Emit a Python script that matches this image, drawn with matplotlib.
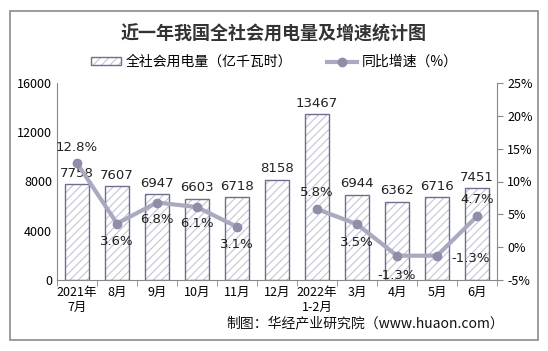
import matplotlib.pyplot as plt
from matplotlib.patches import Rectangle
import numpy as np

plt.rcParams['font.family'] = ['Noto Sans CJK SC', 'DejaVu Sans']
plt.rcParams['hatch.linewidth'] = 0.8

# data
months = ["2021年\n7月", "8月", "9月", "10月", "11月", "12月",
          "2022年\n1-2月", "3月", "4月", "5月", "6月"]
power = [7758, 7607, 6947, 6603, 6718, 8158, 13467, 6944, 6362, 6716, 7451]
growth = [12.8, 3.6, 6.8, 6.1, 3.1, np.nan, 5.8, 3.5, -1.3, -1.3, 4.7]

bar_edge = "#6e6e90"
hatch_col = "#c4c4d4"
line_col = "#a9a9bf"
dot_col = "#8e8eaa"

fig = plt.figure(figsize=(5.48, 3.51), dpi=100)
fig.patches.append(Rectangle((10 / 548, 11 / 351), 528 / 548, 329 / 351,
                             transform=fig.transFigure, fill=False,
                             edgecolor="#8a8a8a", linewidth=1.2))

ax = fig.add_axes([57 / 548, 71 / 351, 440 / 548, 197 / 351])
x = np.arange(len(months))
# light hatch first, then the darker outline on top
hatch_bars = ax.bar(x, power, width=0.62, facecolor="white",
                    edgecolor=hatch_col, hatch="////", linewidth=0)
edge_bars = ax.bar(x, power, width=0.62, fill=False, edgecolor=bar_edge,
                   linewidth=1.0)
for xi, v in zip(x, power):
    ax.text(xi, v + 350, str(v), ha="center", va="bottom", fontsize=9.5,
            color="#222222", family=["DejaVu Sans"])

ax.set_xlim(-0.5, len(months) - 0.5)
ax.set_ylim(0, 16000)
ax.set_yticks([0, 4000, 8000, 12000, 16000])
ax.set_xticks(x)
ax.set_xticklabels(months, fontsize=9)
ax.set_xticks(np.arange(-0.5, len(months)), minor=True)
ax.tick_params(axis="x", which="major", length=0, pad=4)
ax.tick_params(axis="x", which="minor", length=4, color="#888888")
ax.tick_params(axis="y", length=0, labelsize=9)
for s in ["top", "right"]:
    ax.spines[s].set_visible(False)
ax.spines["left"].set_color("#888888")
ax.spines["bottom"].set_color("#888888")

ax2 = ax.twinx()
line, = ax2.plot(x, growth, color=line_col, linewidth=3, marker="o",
                 markersize=6, markerfacecolor=dot_col,
                 markeredgecolor=dot_col)
ax2.set_ylim(-5, 25)
ax2.set_yticks([-5, 0, 5, 10, 15, 20, 25])
ax2.set_yticklabels([f"{t}%" for t in [-5, 0, 5, 10, 15, 20, 25]], fontsize=9)
ax2.tick_params(axis="y", length=4, color="#888888")
for s in ["top", "left", "bottom"]:
    ax2.spines[s].set_visible(False)
ax2.spines["right"].set_color("#888888")

# growth labels: offset in points (dx, dy)
offsets = [(0, 11), (0, -13), (0, -12), (0, -12), (0, -13), None,
           (0, 12), (0, -13), (0, -14), (24, -2), (0, 12)]
for xi, g, off in zip(x, growth, offsets):
    if off is None:
        continue
    ax2.annotate(f"{g}%", (xi, g), xytext=off, textcoords="offset points",
                 ha="center", va="center", fontsize=9.5, color="#222222",
                 family=["DejaVu Sans"])

fig.legend([(hatch_bars[0], edge_bars[0]), line],
           ["全社会用电量（亿千瓦时）", "同比增速（%）"],
           loc="center", bbox_to_anchor=(0.5, 1 - 62 / 351),
           ncol=2, frameon=False, fontsize=10, handlelength=2.2,
           handleheight=0.5, columnspacing=2.5, handletextpad=0.3)

fig.text(0.5, 1 - 34 / 351, "近一年我国全社会用电量及增速统计图", ha="center",
         va="center", fontsize=13, fontweight="bold", color="#333333")
fig.text(504 / 548, 1 - 323 / 351, "制图：华经产业研究院（www.huaon.com）",
         ha="right", va="center", fontsize=10, color="#111111")

fig.savefig("out.png", dpi=100)
